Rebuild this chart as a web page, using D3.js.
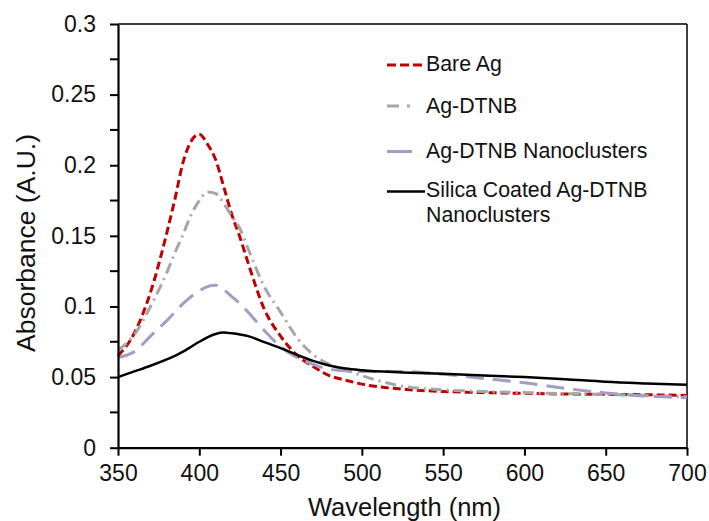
<!DOCTYPE html>
<html>
<head>
<meta charset="utf-8">
<script src="https://cdn.jsdelivr.net/npm/d3@7"></script>
<style>
  body { margin: 0; background: #fff; }
  svg { display: block; font-family: "Liberation Sans", Arial, sans-serif; }
</style>
</head>
<body>
<svg id="chart" width="709" height="521"></svg>
<script>
// wavelength grid (nm) shared by all series
const wavelengths = [350, 360, 370, 380, 385, 390, 395, 400, 405, 410, 415, 420, 425, 430, 440,
    450, 460, 470, 480, 490, 500, 525, 550, 575, 600, 625, 650, 675, 700];

const bareAg = [0.065, 0.081, 0.110, 0.152, 0.176, 0.202, 0.217, 0.222, 0.215, 0.204, 0.185, 0.165, 0.149, 0.131, 0.098,
    0.079, 0.0655, 0.0575, 0.051, 0.0478, 0.045, 0.0415, 0.0398, 0.039, 0.0385, 0.038, 0.0378, 0.0375, 0.037];
const agDtnb = [0.069, 0.080, 0.100, 0.124, 0.138, 0.151, 0.165, 0.175, 0.181, 0.180, 0.173, 0.164, 0.155, 0.141, 0.114,
    0.096, 0.078, 0.066, 0.059, 0.055, 0.051, 0.0435, 0.041, 0.0398, 0.039, 0.0383, 0.0377, 0.0368, 0.036];
const agDtnbNano = [0.064, 0.068, 0.079, 0.090, 0.096, 0.102, 0.107, 0.111, 0.114, 0.115, 0.112, 0.107, 0.102, 0.096, 0.083,
    0.0715, 0.064, 0.059, 0.0555, 0.0545, 0.054, 0.054, 0.052, 0.049, 0.046, 0.042, 0.0388, 0.0365, 0.0355];
const silicaNano = [0.050, 0.054, 0.058, 0.0625, 0.065, 0.068, 0.0715, 0.075, 0.0782, 0.0805, 0.0815, 0.081, 0.0802, 0.079, 0.0748,
    0.0705, 0.0658, 0.0615, 0.0582, 0.056, 0.0548, 0.0533, 0.0523, 0.0512, 0.050, 0.0485, 0.0467, 0.0455, 0.0445];

const xTicks = [350, 400, 450, 500, 550, 600, 650, 700];
const yTicks = [0, 0.05, 0.1, 0.15, 0.2, 0.25, 0.3];
const yMinorTicks = [0.025, 0.075, 0.125, 0.175, 0.225, 0.275];

const seriesNames = ['Bare Ag', 'Ag-DTNB', 'Ag-DTNB Nanoclusters', 'Silica Coated Ag-DTNB|Nanoclusters'];
const seriesValues = [bareAg, agDtnb, agDtnbNano, silicaNano];

const styles = [
    { color: '#c00000', width: 3, dash: '8,4', legendDash: '9,4' },
    { color: '#a6a6a6', width: 3, dash: '11,5,2,5', legendDash: '12,8,3,20' },
    { color: '#a39cc4', width: 3, dash: '18,9', legendDash: '25,20' },
    { color: '#000000', width: 2.5, dash: null, legendDash: null }
];

const svg = d3.select('#chart');
const plotLeft = 118, plotRight = 687, plotTop = 24, plotBottom = 447.7;

const x = d3.scaleLinear().domain([350, 700]).range([plotLeft, plotRight]);
const y = d3.scaleLinear().domain([0, 0.3]).range([plotBottom, plotTop]);

// frame top / right
svg.append('line').attr('x1', plotLeft).attr('x2', plotRight).attr('y1', plotTop).attr('y2', plotTop)
    .attr('stroke', '#000').attr('stroke-width', 1.5);
svg.append('line').attr('x1', plotRight).attr('x2', plotRight).attr('y1', plotTop).attr('y2', plotBottom)
    .attr('stroke', '#000').attr('stroke-width', 1.5);

const line = d3.line()
    .x((d, i) => x(wavelengths[i]))
    .y(d => y(d))
    .curve(d3.curveMonotoneX);

seriesValues.forEach((vals, i) => {
    svg.append('path')
        .datum(vals)
        .attr('d', line)
        .attr('fill', 'none')
        .attr('stroke', styles[i].color)
        .attr('stroke-width', styles[i].width)
        .attr('stroke-dasharray', styles[i].dash);
});

// axes
const xAxis = svg.append('g')
    .attr('transform', `translate(0,${plotBottom})`)
    .call(d3.axisBottom(x).tickValues(xTicks).tickSize(8).tickSizeOuter(0).tickPadding(9).tickFormat(d3.format('d')));

const yAxis = svg.append('g')
    .attr('transform', `translate(${plotLeft},0)`)
    .call(d3.axisLeft(y).tickValues(yTicks).tickSize(8).tickSizeOuter(0).tickPadding(14).tickFormat(d => d === 0 ? '0' : String(d)));

yAxis.selectAll('.minor')
    .data(yMinorTicks)
    .enter().append('line')
    .attr('class', 'minor')
    .attr('x1', -8).attr('x2', 0)
    .attr('y1', d => y(d)).attr('y2', d => y(d))
    .attr('stroke', '#000').attr('stroke-width', 2);

[xAxis, yAxis].forEach(g => {
    g.select('.domain').attr('stroke-width', 2.2);
    g.selectAll('.tick line').attr('stroke-width', 2);
    g.selectAll('.tick text').attr('font-size', 23).attr('fill', '#111')
        .attr('font-family', '"Liberation Sans", Arial, sans-serif');
});

// axis titles
svg.append('text')
    .attr('x', (plotLeft + plotRight) / 2 + 2).attr('y', 516)
    .attr('text-anchor', 'middle')
    .attr('font-size', 25.5).attr('fill', '#111')
    .text('Wavelength (nm)');

svg.append('text')
    .attr('transform', 'translate(35,243) rotate(-90)')
    .attr('text-anchor', 'middle')
    .attr('font-size', 26.5).attr('fill', '#111')
    .text('Absorbance (A.U.)');

// legend
const legendY = [65, 106, 151.5, 191.5];
const legendTextY = [71, 112.5, 157.5, 197];
seriesNames.forEach((name, i) => {
    const lg = svg.append('g');
    lg.append('line')
        .attr('x1', 387).attr('x2', i === 2 ? 412 : (i === 3 ? 425 : 422))
        .attr('y1', legendY[i]).attr('y2', legendY[i])
        .attr('stroke', styles[i].color)
        .attr('stroke-width', styles[i].width)
        .attr('stroke-dasharray', styles[i].legendDash);
    const parts = name.split('|');
    parts.forEach((p, j) => {
        lg.append('text')
            .attr('x', 426).attr('y', legendTextY[i] + j * 25)
            .attr('font-size', 21.3).attr('fill', '#111')
            .text(p);
    });
});
</script>
</body>
</html>
